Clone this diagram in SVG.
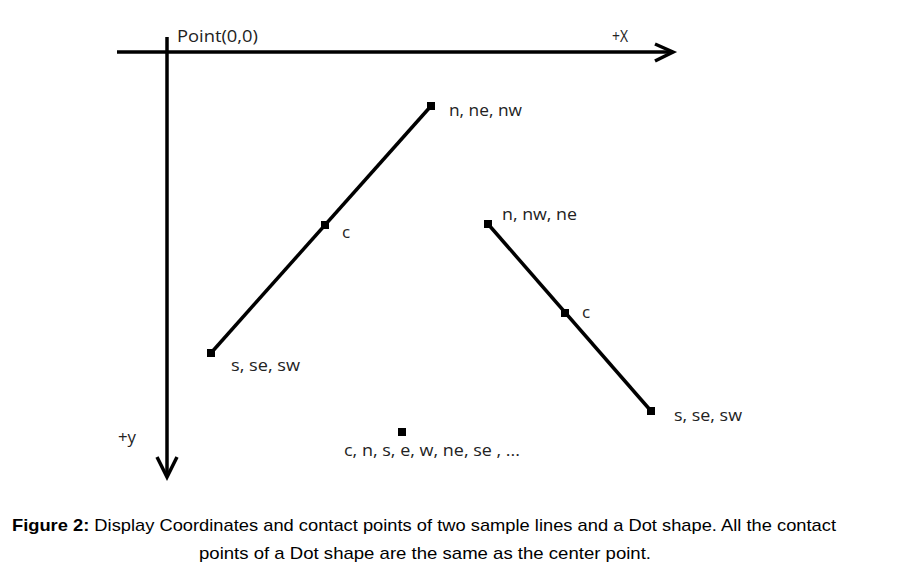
<svg xmlns="http://www.w3.org/2000/svg" width="905" height="583" viewBox="0 0 905 583">
<style>
.ax{stroke:#000;stroke-width:3.5;fill:none;stroke-linecap:butt}
.ln{stroke:#000;stroke-width:3.5;fill:none}
.pt{fill:#000}
.lb{font-family:"Open Sans","Noto Sans",sans-serif;font-size:17px;fill:#222}
.cap{font-family:"Liberation Sans",sans-serif;font-size:17px;fill:#000}
</style>
<rect width="905" height="583" fill="#fff"/>
<g id="connectors">
<path class="ax" d="M117 52H673"/>
<path class="ax" d="M655 44L673 52L655 61"/>
<path class="ax" d="M167 37V477"/>
<path class="ax" d="M157 457L167 477L177 457"/>
<path class="ln" d="M211 353L431 106"/>
<path class="ln" d="M488 224L651 411"/>
</g>
<g id="axis-labels">
<text class="lb" x="177" y="42" textLength="81" lengthAdjust="spacingAndGlyphs">Point(0,0)</text>
<text class="lb" x="612" y="42" textLength="16" lengthAdjust="spacingAndGlyphs">+X</text>
<text class="lb" x="118" y="443" textLength="18" lengthAdjust="spacingAndGlyphs">+y</text>
</g>
<g id="line1">
<rect class="pt" x="427" y="102" width="8" height="8"/>
<rect class="pt" x="321" y="221" width="8" height="8"/>
<rect class="pt" x="207" y="349" width="8" height="8"/>
<text class="lb" x="449" y="116" textLength="73" lengthAdjust="spacingAndGlyphs">n, ne, nw</text>
<text class="lb" x="342" y="238">c</text>
<text class="lb" x="231" y="371" textLength="69" lengthAdjust="spacingAndGlyphs">s, se, sw</text>
</g>
<g id="line2">
<rect class="pt" x="484" y="220" width="8" height="8"/>
<rect class="pt" x="561" y="309" width="8" height="8"/>
<rect class="pt" x="647" y="407" width="8" height="8"/>
<text class="lb" x="502" y="220" textLength="75" lengthAdjust="spacingAndGlyphs">n, nw, ne</text>
<text class="lb" x="582" y="318">c</text>
<text class="lb" x="674" y="421" textLength="68" lengthAdjust="spacingAndGlyphs">s, se, sw</text>
</g>
<g id="dot">
<rect class="pt" x="398" y="428" width="8" height="8"/>
<text class="lb" x="344" y="456" textLength="176" lengthAdjust="spacingAndGlyphs">c, n, s, e, w, ne, se , ...</text>
</g>
<g id="caption">
<text class="cap" x="12" y="531" textLength="824" lengthAdjust="spacingAndGlyphs"><tspan font-weight="bold">Figure 2:</tspan> Display Coordinates and contact points of two sample lines and a Dot shape. All the contact</text>
<text class="cap" x="199" y="559" textLength="452" lengthAdjust="spacingAndGlyphs">points of a Dot shape are the same as the center point.</text>
</g>
</svg>
